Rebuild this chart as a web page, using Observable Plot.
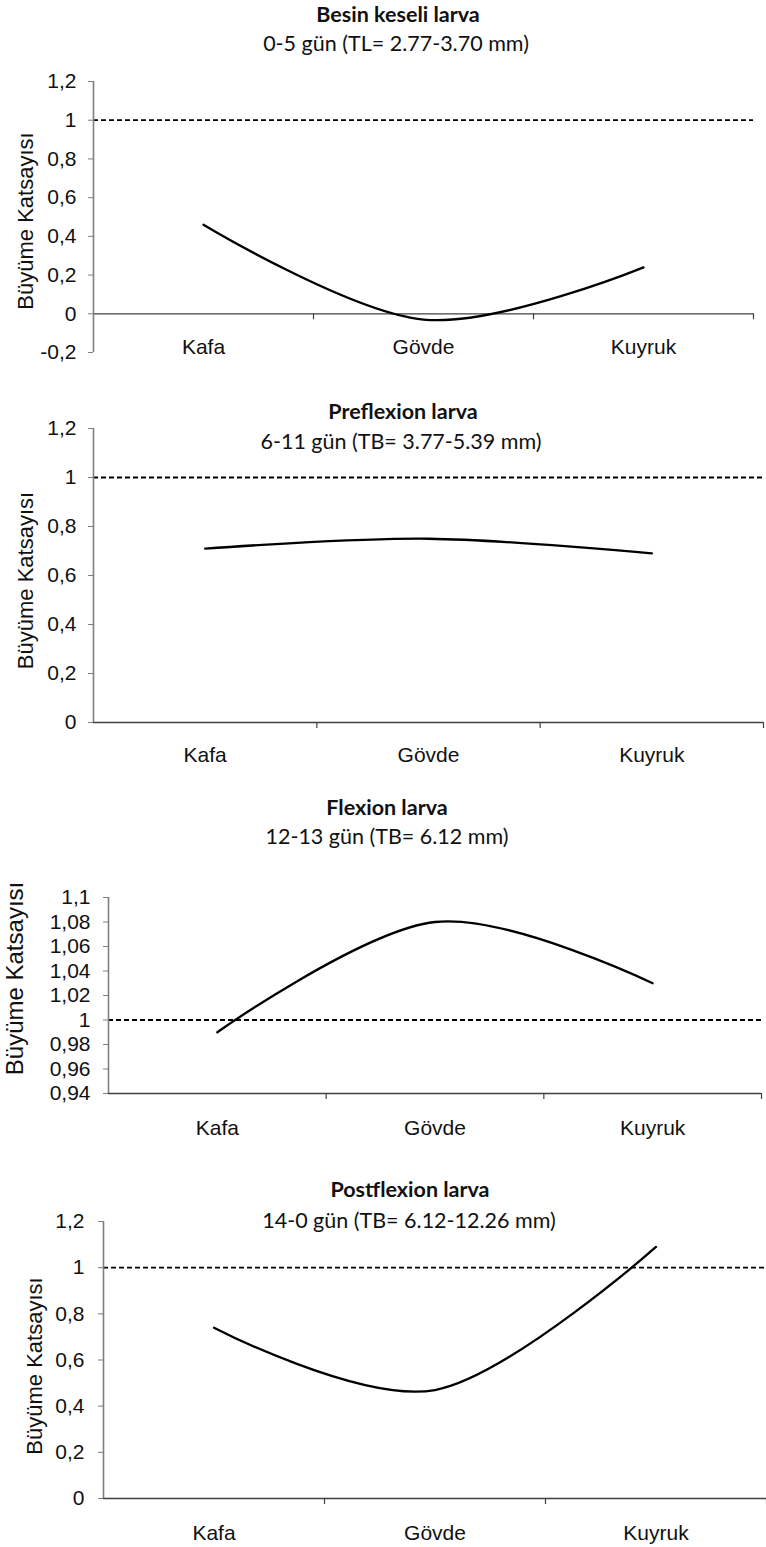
<!DOCTYPE html>
<html><head><meta charset="utf-8">
<script src="https://cdn.jsdelivr.net/npm/d3@7"></script>
<script src="https://cdn.jsdelivr.net/npm/@observablehq/plot@0.6"></script>
<style>
body{margin:0;background:#fff;font-family:'Liberation Sans',Arial,sans-serif;}
#root{position:relative;width:766px;height:1547px;overflow:hidden;background:#fff;}
.panel{position:absolute;left:0;}
.t{position:absolute;width:500px;text-align:center;font-family:Lato,"Open Sans",sans-serif;color:#111;white-space:nowrap;line-height:1;}
</style></head><body><div id="root"></div>
<script>
// ---- data ----
const categories = ["Kafa", "Gövde", "Kuyruk"];
const titles = ["Besin keseli larva", "Preflexion larva", "Flexion larva", "Postflexion larva"];
const subtitles = ["0-5 gün (TL= 2.77-3.70 mm)", "6-11 gün (TB= 3.77-5.39 mm)", "12-13 gün (TB= 6.12 mm)", "14-0 gün (TB= 6.12-12.26 mm)"];
const besinValues = [0.46, -0.03, 0.24];
const preflexionValues = [0.71, 0.75, 0.69];
const flexionValues = [0.99, 1.08, 1.03];
const postflexionValues = [0.74, 0.47, 1.09];
const ticksBesin = [-0.2, 0, 0.2, 0.4, 0.6, 0.8, 1, 1.2];
const ticksPreflexion = [0, 0.2, 0.4, 0.6, 0.8, 1, 1.2];
const ticksFlexion = [0.94, 0.96, 0.98, 1, 1.02, 1.04, 1.06, 1.08, 1.1];
const ticksPostflexion = [0, 0.2, 0.4, 0.6, 0.8, 1, 1.2];
const yLabel = "Büyüme Katsayısı";
const referenceLevel = [1];
const xBaseline = [0, 0, 0.94, 0];

// ---- layout ----
const layout = [
  {values: besinValues, ticks: ticksBesin, top: 0, height: 370, mt: 81, mb: 18, ml: 93, mr: 13, pad: 12, tickFs: 21, catDy: -5, labX: 25, labDy: 4, labFs: 22, tx: 398, ty: 15, sx: 396, sy: 44},
  {values: preflexionValues, ticks: ticksPreflexion, top: 380, height: 390, mt: 48, mb: 48, ml: 93, mr: 3, pad: 12, tickFs: 21, catDy: 33, labX: 25, labDy: 5, labFs: 22, tx: 403, ty: 412, sx: 401, sy: 442},
  {values: flexionValues, ticks: ticksFlexion, top: 770, height: 370, mt: 127, mb: 47, ml: 108, mr: 5, pad: 13, tickFs: 21, catDy: 35, labX: 15, labDy: -17, labFs: 24, tx: 387, ty: 808, sx: 387, sy: 837},
  {values: postflexionValues, ticks: ticksPostflexion, top: 1140, height: 407, mt: 81, mb: 49, ml: 103, mr: 0, pad: 14, tickFs: 21, catDy: 35, labX: 34, labDy: 6, labFs: 22, tx: 410, ty: 1190, sx: 409, sy: 1221}
];

const fmt = d => String(d).replace(".", ",");
const boundaries = [0.5, 1.5, 2.5];
const root = document.getElementById("root");
const sans = "Liberation Sans";

layout.forEach((p, k) => {
  const data = p.values.map((v, i) => ({i, v}));
  const chart = Plot.plot({
    width: 766, height: p.height,
    marginTop: p.mt, marginBottom: p.mb, marginLeft: p.ml, marginRight: p.mr,
    x: {domain: [-0.5, 2.5], axis: null},
    y: {domain: [p.ticks[0], p.ticks[p.ticks.length - 1]], axis: null},
    style: {fontFamily: "'Liberation Sans', Arial, sans-serif", background: "transparent", overflow: "visible"},
    marks: [
      Plot.ruleY(referenceLevel, {stroke: "#000", strokeWidth: 1.8, strokeDasharray: "5,3"}),
      Plot.ruleY([xBaseline[k]], {stroke: "#404040", strokeWidth: 1.3}),
      Plot.ruleX(boundaries, {x: d => d, y1: xBaseline[k], y2: xBaseline[k], insetBottom: -6, stroke: "#404040", strokeWidth: 1.2}),
      Plot.ruleX([-0.5], {stroke: "#7f7f7f", strokeWidth: 1.6}),
      Plot.axisY(p.ticks, {anchor: "left", tickSize: 5, tickPadding: p.pad, tickFormat: fmt, fontSize: p.tickFs, fontFamily: sans, stroke: "#7f7f7f", fill: "#111", label: null}),
      Plot.line(data, {x: "i", y: "v", curve: "cardinal", stroke: "#000", strokeWidth: 2.3}),
      Plot.text(categories, {x: (d, i) => i, text: d => d, frameAnchor: "bottom", lineAnchor: "middle", textAnchor: "middle", dy: p.catDy, fontSize: 21, fontFamily: sans, fill: "#111"}),
      Plot.text([yLabel], {text: d => d, frameAnchor: "left", textAnchor: "middle", lineAnchor: "middle", dx: p.labX - p.ml, dy: p.labDy, rotate: -90, fontSize: p.labFs, fontFamily: sans, fill: "#111"})
    ]
  });
  chart.classList.add("panel");
  chart.style.top = p.top + "px";
  root.appendChild(chart);

  const t = document.createElement("div");
  t.className = "t";
  t.style.fontWeight = "700";
  t.style.fontSize = "21.5px";
  t.style.left = (p.tx - 250) + "px";
  t.style.top = (p.ty - 0.53 * 21.5) + "px";
  t.textContent = titles[k];
  root.appendChild(t);

  const s = document.createElement("div");
  s.className = "t";
  s.style.fontSize = "21.5px";
  s.style.left = (p.sx - 250) + "px";
  s.style.top = (p.sy - 0.53 * 21.5) + "px";
  s.textContent = subtitles[k];
  root.appendChild(s);
});
</script>
</body></html>
